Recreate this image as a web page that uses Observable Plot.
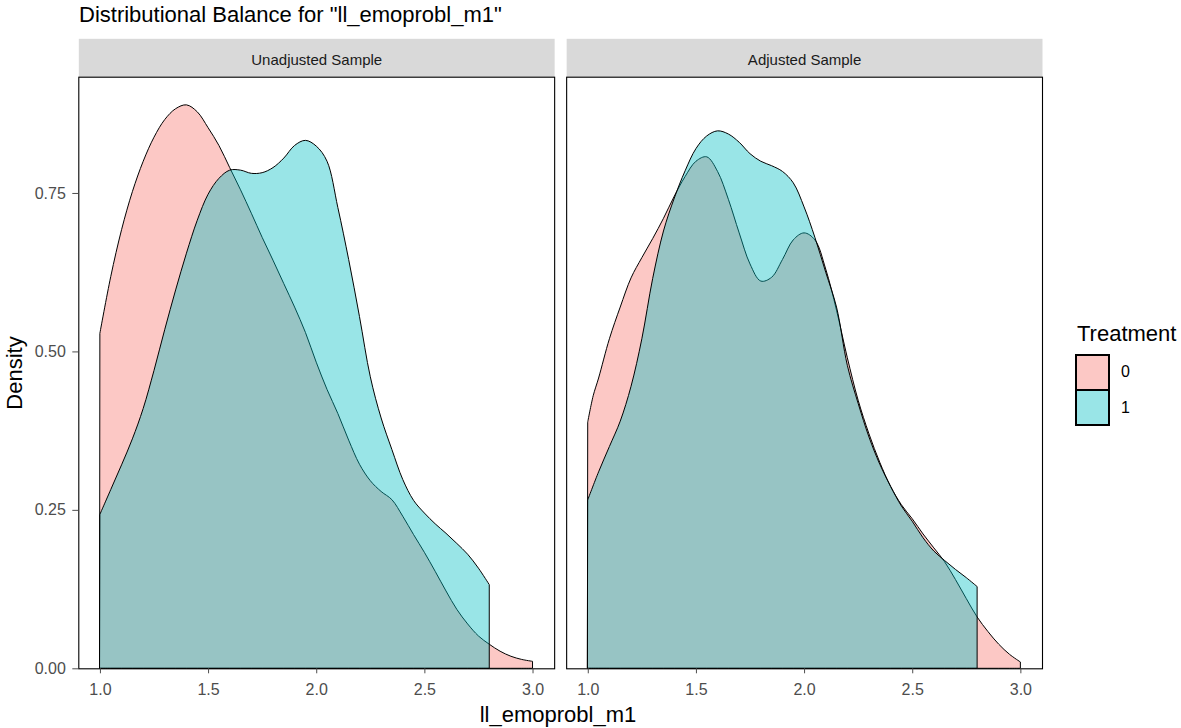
<!DOCTYPE html>
<html>
<head>
<meta charset="utf-8">
<script src="https://cdn.jsdelivr.net/npm/d3@7"></script>
<script src="https://cdn.jsdelivr.net/npm/@observablehq/plot@0.6"></script>
<style>
html,body{margin:0;padding:0;background:#fff;}
#wrap{position:relative;width:1181px;height:728px;overflow:hidden;font-family:"Liberation Sans",Arial,sans-serif;color:#000;background:#fff;}
.t{position:absolute;white-space:nowrap;line-height:1;}
#chart{position:absolute;left:0;top:30px;}
.key{position:absolute;box-sizing:border-box;left:1075px;width:35px;height:37px;border:2.5px solid #000;}
</style>
</head>
<body>
<div id="wrap">
  <div class="t" id="title" style="left:79px;top:3.5px;font-size:22px;"></div>
  <div id="chart"></div>
  <div class="t" id="xlab" style="left:0;width:1116px;text-align:center;top:704px;font-size:22px;"></div>
  <div class="t" id="ylab" style="left:15px;top:372.5px;font-size:22px;transform:translate(-50%,-50%) rotate(-90deg);"></div>
  <div class="t" id="legTitle" style="left:1077px;top:322.6px;font-size:22px;"></div>
  <div id="legend"></div>
</div>
<script>
// ---- data ----
const titleText = 'Distributional Balance for "ll_emoprobl_m1"';
const xTitle = "ll_emoprobl_m1";
const yTitle = "Density";
const legendTitle = "Treatment";
const panels = ["Unadjusted Sample", "Adjusted Sample"];
const treatments = ["0", "1"];
const colors = ["#F8766D", "#00BFC4"];
const xTicks = [1.0, 1.5, 2.0, 2.5, 3.0];
const yTicks = [0, 0.25, 0.5, 0.75];

// Unadjusted sample, treatment 0
const unadj0X = [1.00,1.05,1.10,1.15,1.20,1.25,1.30,1.35,1.40,1.45,1.50,1.55,1.60,1.65,1.70,1.75,1.80,1.85,1.90,1.95,2.00,2.05,2.10,2.15,2.20,2.25,2.30,2.35,2.40,2.45,2.50,2.55,2.60,2.65,2.70,2.75,2.80,2.85,2.90,2.95,3.00];
const unadj0Y = [0.529,0.618,0.692,0.752,0.800,0.838,0.866,0.883,0.889,0.878,0.853,0.825,0.790,0.755,0.718,0.680,0.644,0.607,0.570,0.530,0.483,0.440,0.402,0.360,0.322,0.296,0.279,0.266,0.240,0.211,0.183,0.153,0.122,0.093,0.070,0.051,0.038,0.027,0.019,0.014,0.011];
// Unadjusted sample, treatment 1
const unadj1X = [1.00,1.05,1.10,1.15,1.20,1.25,1.30,1.35,1.40,1.45,1.50,1.55,1.60,1.65,1.70,1.75,1.80,1.85,1.90,1.95,2.00,2.05,2.10,2.15,2.20,2.25,2.30,2.35,2.40,2.45,2.50,2.55,2.60,2.65,2.70,2.75,2.80];
const unadj1Y = [0.243,0.282,0.321,0.362,0.410,0.470,0.535,0.597,0.655,0.707,0.748,0.773,0.786,0.786,0.781,0.782,0.790,0.805,0.825,0.833,0.824,0.800,0.727,0.645,0.555,0.460,0.395,0.345,0.298,0.265,0.245,0.228,0.213,0.197,0.180,0.158,0.132];
// Adjusted sample, treatment 0
const adj0X = [1.00,1.025,1.05,1.10,1.15,1.20,1.25,1.30,1.35,1.40,1.45,1.50,1.55,1.60,1.65,1.70,1.75,1.80,1.85,1.90,1.95,2.00,2.05,2.10,2.15,2.20,2.25,2.30,2.35,2.40,2.45,2.50,2.55,2.60,2.65,2.70,2.75,2.80,2.85,2.90,2.95,3.00];
const adj0Y = [0.389,0.430,0.458,0.520,0.570,0.616,0.648,0.678,0.710,0.745,0.776,0.800,0.807,0.784,0.740,0.687,0.638,0.611,0.617,0.645,0.676,0.687,0.676,0.630,0.565,0.490,0.423,0.370,0.325,0.287,0.258,0.236,0.212,0.190,0.168,0.140,0.110,0.081,0.058,0.038,0.022,0.010];
// Adjusted sample, treatment 1
const adj1X = [1.00,1.05,1.10,1.15,1.20,1.25,1.30,1.35,1.40,1.45,1.50,1.55,1.60,1.65,1.70,1.75,1.80,1.85,1.90,1.95,2.00,2.05,2.10,2.15,2.20,2.25,2.30,2.35,2.40,2.45,2.50,2.55,2.60,2.65,2.70,2.75,2.80];
const adj1Y = [0.266,0.310,0.350,0.390,0.445,0.520,0.615,0.690,0.742,0.785,0.820,0.840,0.848,0.843,0.830,0.812,0.800,0.793,0.784,0.766,0.728,0.680,0.625,0.570,0.478,0.418,0.365,0.322,0.287,0.256,0.232,0.206,0.185,0.170,0.156,0.143,0.129];

// ---- build table ----
function series(panel, treatment, xs, ys) {
  return xs.map((x, i) => ({panel, treatment, x, y: ys[i]}));
}
const rows = [
  ...series(panels[0], treatments[0], unadj0X, unadj0Y),
  ...series(panels[0], treatments[1], unadj1X, unadj1Y),
  ...series(panels[1], treatments[0], adj0X, adj0Y),
  ...series(panels[1], treatments[1], adj1X, adj1Y)
];

// ---- layout ----
const W = 1181, H = 698;
const mL = 78.3, mR = 139, mT = 46.7, mB = 59.7;
const panelH = H - mT - mB;
const stripH = 38.4;
const gap = 12;
const step = (W - mL - mR + gap) / 2;

const xExt = d3.extent(rows, d => d.x);
const xPad = (xExt[1] - xExt[0]) * 0.05;
const yMax = d3.max(rows, d => d.y) * 1.05;

const chart = Plot.plot({
  width: W,
  height: H,
  marginLeft: mL,
  marginRight: mR,
  marginTop: mT,
  marginBottom: mB,
  style: {fontFamily: '"Liberation Sans", Arial, sans-serif', fontSize: "16px", background: "white", color: "#000"},
  fx: {domain: panels, paddingInner: gap / step, paddingOuter: 0, round: false, label: null},
  x: {domain: [xExt[0] - xPad, xExt[1] + xPad], label: null},
  y: {domain: [0, yMax], label: null},
  color: {domain: treatments, range: colors},
  marks: [
    Plot.frame({fill: "#D9D9D9", insetTop: -stripH, insetBottom: panelH}),
    Plot.areaY(rows, {fx: "panel", x: "x", y1: 0, y2: "y", z: "treatment", fill: "treatment", fillOpacity: 0.4, stroke: "#000", strokeWidth: 1, curve: "catmull-rom"}),
    Plot.frame({stroke: "#000", strokeWidth: 1.1}),
    Plot.axisFx({anchor: "top", tickSize: 0, tickPadding: 12, label: null, color: "#1A1A1A", fontSize: 15}),
    Plot.axisX({ticks: xTicks, tickFormat: d3.format(".1f"), tickSize: 5, tickPadding: 10, label: null, color: "#4D4D4D", fontSize: 16}),
    Plot.axisY({ticks: yTicks, tickFormat: d3.format(".2f"), tickSize: 6, tickPadding: 7, label: null, color: "#4D4D4D", fontSize: 16})
  ]
});
document.getElementById("chart").appendChild(chart);

// ---- texts & legend ----
document.getElementById("title").textContent = titleText;
document.getElementById("xlab").textContent = xTitle;
document.getElementById("ylab").textContent = yTitle;
document.getElementById("legTitle").textContent = legendTitle;
const leg = document.getElementById("legend");
const keyTops = [353.5, 388.5];
const labelTops = [364.2, 400.2];
treatments.forEach((t, i) => {
  const c = d3.color(colors[i]);
  const key = document.createElement("div");
  key.className = "key";
  key.style.top = keyTops[i] + "px";
  key.style.background = `rgba(${c.r},${c.g},${c.b},0.4)`;
  leg.appendChild(key);
  const lab = document.createElement("div");
  lab.className = "t";
  lab.style.left = "1121px";
  lab.style.top = labelTops[i] + "px";
  lab.style.fontSize = "16px";
  lab.textContent = t;
  leg.appendChild(lab);
});
</script>
</body>
</html>
